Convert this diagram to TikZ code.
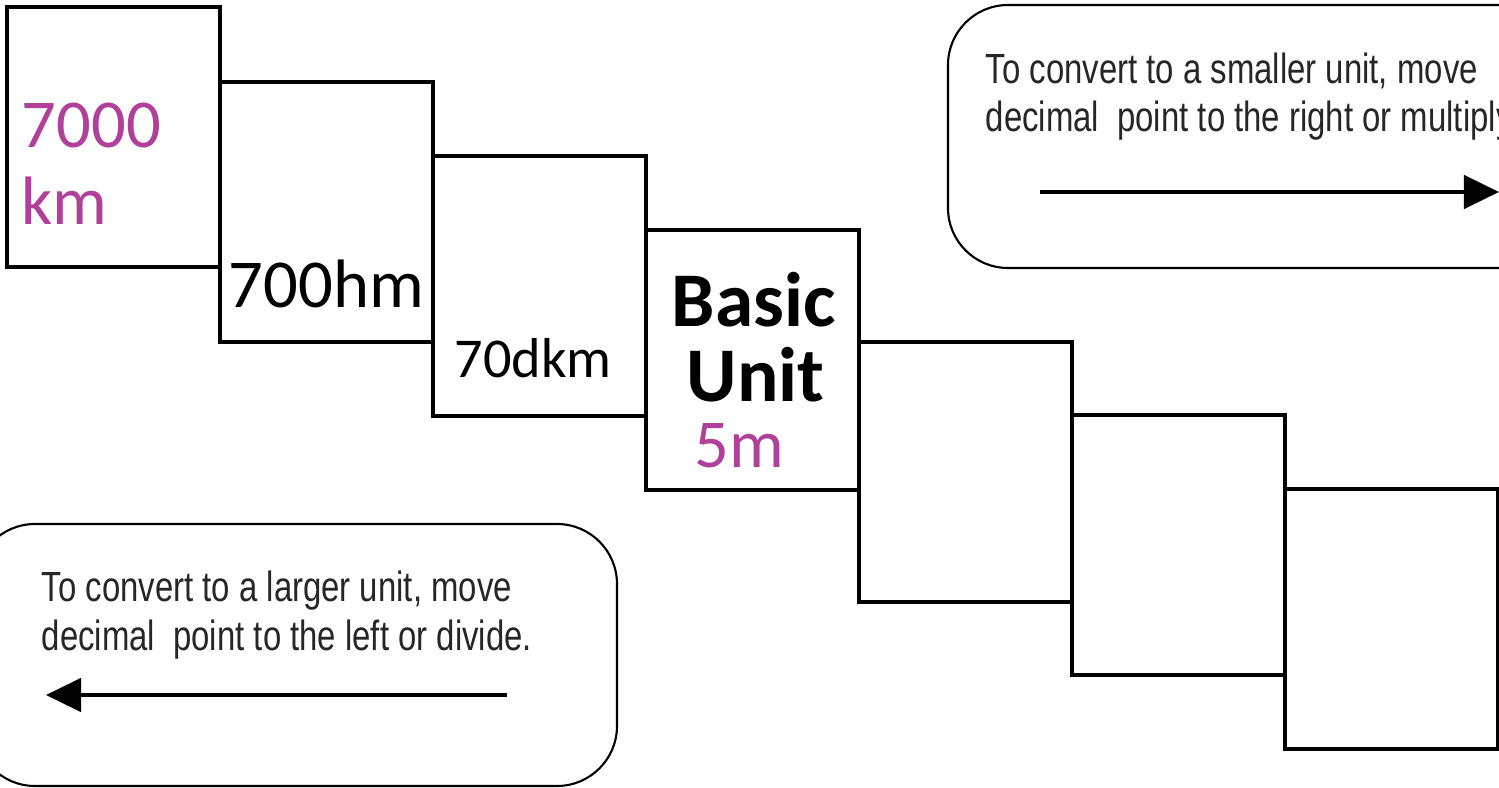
\documentclass[tikz,border=0pt]{standalone}
\usepackage{fontspec}
\setmainfont{Carlito}
\newfontfamily\narrowfont[FakeStretch=0.78]{Liberation Sans}
\usepackage{tikz}
\usetikzlibrary{arrows.meta}
\definecolor{unitpink}{RGB}{176,64,154}

\tikzset{
  unitbox/.style={draw, line width=1.15pt, minimum width=2.13cm, minimum height=2.6cm, outer sep=0pt, inner sep=0pt, anchor=north west},
  unittext/.style={anchor=base west, inner sep=0pt, font=\fontsize{19.5}{20}\selectfont},
  hinttext/.style={anchor=base west, inner sep=0pt, align=left, text=black!85, font=\narrowfont\fontsize{12}{13.7}\selectfont},
  hintbox/.style={line width=0.6pt, rounded corners=0.6cm},
  bigarrow/.style={line width=1.1pt, -{Triangle[length=10pt,width=9.5pt]}}
}

\begin{document}
\begin{tikzpicture}[x=0.01cm,y=-0.01cm]
\useasboundingbox (0,0) rectangle (1499,788);
\clip (0,0) rectangle (1499,788);
% marches des unites
\node[unitbox] (km) at (7,7) {};
\node[unitbox] (hm) at (220,82) {};
\node[unitbox] (dkm) at (433,156) {};
\node[unitbox] (m) at (646,230) {};
\node[unitbox] (dm) at (859,342) {};
\node[unitbox] (cm) at (1072,415) {};
\node[unitbox] (mm) at (1285,489) {};
% textes
\node[unittext, text=unitpink] (t1) at (21,148) {7000};
\node[unittext, text=unitpink] (t2) at (21,225) {km};
\node[unittext] (t3) at (228,308) {700hm};
\node[unittext, font=\fontsize{16}{17}\selectfont] (t4) at (454,378) {70dkm};
\node[unittext, font=\fontsize{22}{23}\selectfont\bfseries] (t5) at (671,327) {Basic};
\node[unittext, font=\fontsize{22}{23}\selectfont\bfseries] (t6) at (686,402) {Unit};
\node[unittext, text=unitpink] (t7) at (694,468) {5m};
% encadres
\draw[hintbox] (948,5) rectangle (1570,268);
\node[hinttext] (h1) at (985,132) {To convert to a smaller unit, move\\decimal~ point to the right or multiply.};
\coordinate (r0) at (1040,192);
\coordinate (r1) at (1499,192);
\draw[bigarrow] (r0) -- (r1);
\draw[hintbox] (-25,524) rectangle (617,786);
\node[hinttext] (h2) at (41,650) {To convert to a larger unit, move\\decimal~ point to the left or divide.};
\coordinate (l0) at (507,695);
\coordinate (l1) at (46,695);
\draw[bigarrow] (l0) -- (l1);
\end{tikzpicture}
\end{document}
